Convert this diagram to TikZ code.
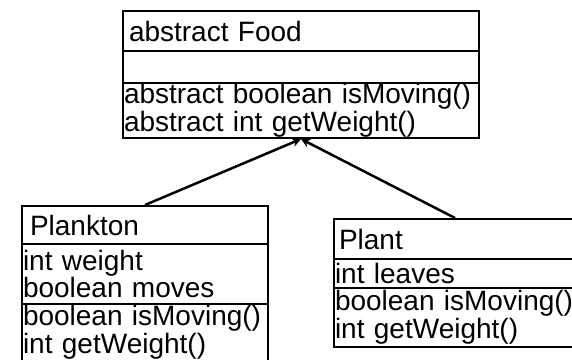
\documentclass[tikz,border=0pt]{standalone}
\usepackage{fontspec}
\setmainfont{Liberation Sans}
\usetikzlibrary{arrows.meta}
\newcommand{\umlsize}{\fontsize{28}{27.5}\selectfont}

\begin{document}
\begin{tikzpicture}[x=1pt,y=-1pt,
  compart/.style={draw,line width=2pt,anchor=north west,align=left,inner ysep=0pt,inner xsep=1pt,font=\umlsize},
  inherit/.style={-{Stealth[length=9pt,width=9pt]},line width=2.5pt}]
\useasboundingbox (0,0) rectangle (572,359);
\clip (0,0) rectangle (572,359);

% Base class (Food)
\node[compart,inner xsep=6pt,text width=344pt,minimum height=40pt] (food) at (122,10) {abstract Food};
\node[compart,text width=354pt,minimum height=32pt] (foodattr) at (122,50) {};
\node[compart,text width=354pt,minimum height=55pt] (foodops) at (122,82) {abstract boolean isMoving()\\abstract int getWeight()};

% Subclass Plankton
\node[compart,inner xsep=8pt,text width=230pt,minimum height=38pt] (plankton) at (21,205) {Plankton};
\node[compart,text width=244pt,minimum height=60pt] (planktonattr) at (21,243) {int weight\\boolean moves};
\node[compart,text width=244pt,minimum height=57pt] (planktonops) at (21,303) {boolean isMoving()\\int getWeight()};

% Subclass Plant (runs past the right edge)
\node[compart,inner xsep=5pt,text width=232pt,minimum height=40pt] (plant) at (333,218) {Plant};
\node[compart,text width=250pt,minimum height=29pt] (plantattr) at (333,258) {int leaves};
\node[compart,text width=250pt,minimum height=59pt] (plantops) at (333,287) {boolean isMoving()\\int getWeight()};

% Inheritance arrows
\draw[inherit] (plankton.north) -- (foodops.south);
\draw[inherit] (plant.north) -- (foodops.south);

\end{tikzpicture}
\end{document}
